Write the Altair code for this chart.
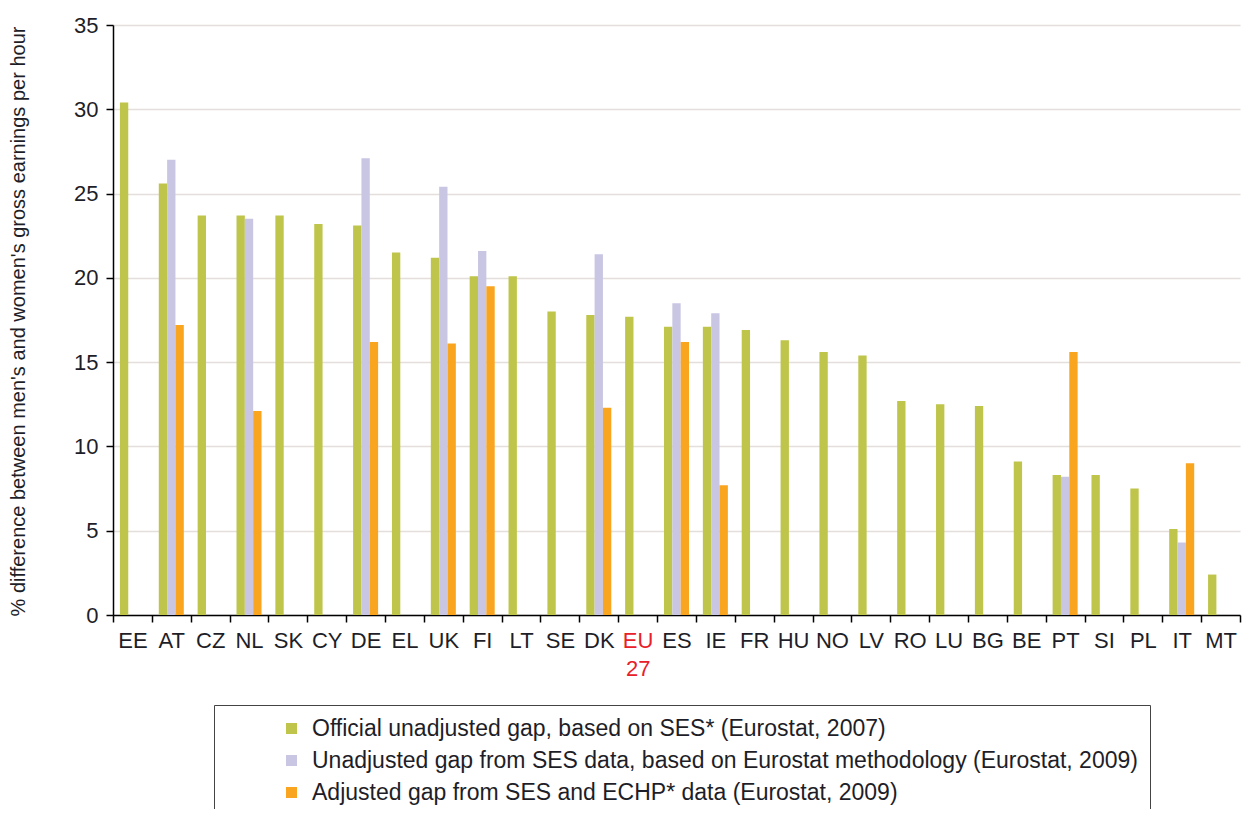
import altair as alt
import pandas as pd

countries = ["EE", "AT", "CZ", "NL", "SK", "CY", "DE", "EL", "UK", "FI", "LT", "SE", "DK", "EU27",
             "ES", "IE", "FR", "HU", "NO", "LV", "RO", "LU", "BG", "BE", "PT", "SI", "PL", "IT", "MT"]

official_2007 = [30.4, 25.6, 23.7, 23.7, 23.7, 23.2, 23.1, 21.5, 21.2, 20.1, 20.1, 18.0, 17.8, 17.7,
                 17.1, 17.1, 16.9, 16.3, 15.6, 15.4, 12.7, 12.5, 12.4, 9.1, 8.3, 8.3, 7.5, 5.1, 2.4]
unadjusted_2009 = [None, 27.0, None, 23.5, None, None, 27.1, None, 25.4, 21.6, None, None, 21.4, None,
                   18.5, 17.9, None, None, None, None, None, None, None, None, 8.2, None, None, 4.3, None]
adjusted_2009 = [None, 17.2, None, 12.1, None, None, 16.2, None, 16.1, 19.5, None, None, 12.3, None,
                 16.2, 7.7, None, None, None, None, None, None, None, None, 15.6, None, None, 9.0, None]

series_names = [
    "Official unadjusted gap, based on SES* (Eurostat, 2007)",
    "Unadjusted gap from SES data, based on Eurostat methodology (Eurostat, 2009)",
    "Adjusted gap from SES and ECHP* data (Eurostat, 2009)",
]
series_colors = ["#BFC54A", "#C9C6E3", "#F9A520"]

rows = []
for name, vals in zip(series_names, [official_2007, unadjusted_2009, adjusted_2009]):
    for c, v in zip(countries, vals):
        if v is not None:
            rows.append({"country": c, "series": name, "value": v})
df = pd.DataFrame(rows)

FONT = "Liberation Sans"

chart = alt.Chart(df).mark_bar().encode(
    x=alt.X("country:N", sort=countries,
            scale=alt.Scale(domain=countries, paddingInner=0, paddingOuter=0),
            axis=alt.Axis(
                title=None, labelAngle=0, tickBand="extent", tickSize=7, tickWidth=1.5,
                tickColor="#000", domainColor="#000", domainWidth=1.5,
                labelFontSize=22, labelFont=FONT, labelPadding=8, labelLineHeight=28,
                labelExpr="datum.value == 'EU27' ? ['EU', '27'] : datum.value",
                labelColor=alt.condition("datum.value == 'EU27'", alt.value("#E8202A"), alt.value("#1E1E28")),
            )),
    xOffset=alt.XOffset("series:N", sort=series_names,
                        scale=alt.Scale(domain=series_names, paddingInner=0, paddingOuter=0.83)),
    y=alt.Y("value:Q",
            scale=alt.Scale(domain=[0, 35], nice=False),
            axis=alt.Axis(
                title="% difference between men's and women's gross earnings per hour",
                titleFontSize=20, titleFont=FONT, titleFontWeight="normal", titleColor="#1E1E28",
                titleX=-85, titleY=296,
                values=[0, 5, 10, 15, 20, 25, 30, 35], tickSize=7, tickWidth=1.5, tickColor="#000",
                domainColor="#000", domainWidth=1.5, labelFontSize=22, labelFont=FONT,
                labelColor="#1E1E28", labelPadding=8,
                grid=True, gridColor="#E4DEDC", gridWidth=1.5,
            )),
    color=alt.Color("series:N", sort=series_names,
                    scale=alt.Scale(domain=series_names, range=series_colors),
                    legend=alt.Legend(
                        title=None, orient="none", legendX=101, legendY=680,
                        padding=12, symbolType="square", symbolSize=121,
                        symbolOffset=54, labelOffset=9, labelFontSize=23, labelFont=FONT,
                        labelColor="#1E1E28", labelLimit=2000, rowPadding=8,
                        strokeColor="#444", fillColor="#FFFFFF",
                        symbolStrokeWidth=0,
                    )),
).properties(
    width=1127, height=590,
    autosize=alt.AutoSizeParams(type="none"),
    padding={"left": 105, "top": 17, "right": 4, "bottom": 194},
).configure_view(stroke=None)

chart.save("out.html", embed_options={"renderer": "svg", "actions": False})
